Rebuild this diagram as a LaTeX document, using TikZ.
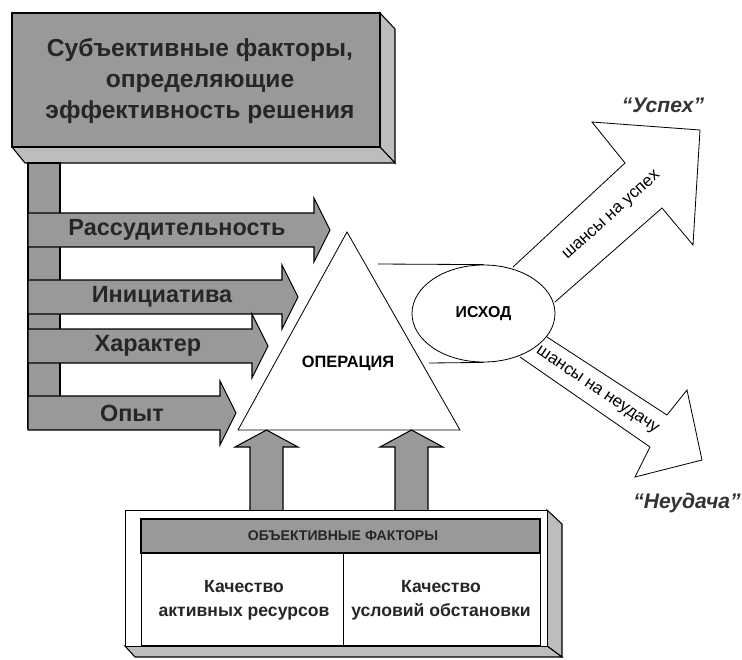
\documentclass[tikz,border=0pt]{standalone}
\usepackage{fontspec}
\setmainfont{Liberation Sans}
\usetikzlibrary{shapes.geometric}

\definecolor{hatch}{gray}{0.6}
\definecolor{hatchside}{gray}{0.74}

\tikzset{
  hatched/.style={fill=hatch,draw=black,line width=0.9pt},
  sideface/.style={fill=hatchside,draw=black,line width=0.9pt},
  outline/.style={draw=black,line width=0.7pt},
  factor/.style={font=\bfseries\fontsize{20}{24}\selectfont,text=black!85},
  chance/.style={font=\fontsize{14.5}{17}\selectfont},
  outcome/.style={font=\bfseries\itshape\fontsize{18}{21}\selectfont,text=black!80},
  cell/.style={align=center,font=\bfseries\fontsize{15}{20.5}\selectfont,text=black!85}
}

\begin{document}
\begin{tikzpicture}[x=0.03cm,y=-0.03cm]
\useasboundingbox (0,0) rectangle (742,659);

% subjective factors
\draw[sideface] (380,13)--(395,29)--(395,163)--(380,147)--cycle;
\draw[sideface] (12,147)--(380,147)--(395,163)--(25,163)--cycle;
\draw[hatched] (12,13) rectangle (380,147);
\node[align=center,font=\bfseries\fontsize{21}{26.5}\selectfont,text=black!85] (subj) at (200,81)
  {Субъективные факторы,\\определяющие\\эффективность решения};
\draw[hatched] (28,163) rectangle (60,428);
\foreach \yc/\xt/\xl/\txt [count=\i] in {230/330/177/Рассудительность,297/298/162/Инициатива,
    346/268/148/Характер,413/236/132/Опыт}{
  \draw[hatched] (28,\yc-17)--(\xt-16,\yc-17)--(\xt-16,\yc-32)--(\xt,\yc)
    --(\xt-16,\yc+32)--(\xt-16,\yc+17)--(28,\yc+17)--cycle;
  \node[factor] (subj-\i) at (\xl,\yc) {\txt};
}

% operation
\coordinate (apex) at (347,232);
\draw[outline,fill=white] (apex)--(460,430)--(238,430)--cycle;
\node[font=\bfseries\fontsize{14}{16}\selectfont] (oper) at (348,363) {ОПЕРАЦИЯ};

% outcome arrows
\draw[outline,fill=white] (513,267)--(625,163)--(592,122)--(700,130)--(693,245)--(662,208)--(555,302);
\draw[outline,fill=white] (547,337)--(667,415)--(687,390)--(702,460)--(635,477)--(650,447)--(520,357);
\node[chance,rotate=42] (win) at (612,216) {шансы на успех};
\node[chance,rotate=-34] (loss) at (597,391) {шансы на неудачу};
\node[outcome] (success) at (663,105) {“Успех”};
\node[outcome] (failure) at (687,503) {“Неудача”};

\node[ellipse,outline,fill=white,minimum width=4.29cm,minimum height=2.91cm,inner sep=0pt,
  font=\bfseries\fontsize{13.5}{15}\selectfont] (ishod) at (483.5,313.5) {ИСХОД};
\coordinate (op-up) at (378,264);
\coordinate (op-lo) at (429,363);
\draw[outline] (op-up) -- (ishod.north);
\draw[outline] (op-lo) -- (ishod.south);

% objective factors
\foreach \xc in {266.5,411.5}
  \draw[hatched] (\xc-16.5,511)--(\xc-16.5,447)--(\xc-31.5,447)--(\xc,430)
    --(\xc+31.5,447)--(\xc+16.5,447)--(\xc+16.5,511);
\draw[sideface] (547,510)--(562,524)--(562,657)--(547,646)--cycle;
\draw[sideface] (125,646)--(547,646)--(562,657)--(135,657)--cycle;
\draw[outline,fill=white] (125,510) rectangle (547,646);
\draw[hatched] (141,519) rectangle (540,553);
\node[font=\bfseries\fontsize{12}{14}\selectfont,text=black!85] (obj) at (343,536) {ОБЪЕКТИВНЫЕ ФАКТОРЫ};
\draw[outline] (141,553) rectangle (540,645);
\draw[outline] (343,553)--(343,645);
\node[cell] (res) at (244,600) {Качество\\активных ресурсов};
\node[cell] (cond) at (441,600) {Качество\\условий обстановки};
\end{tikzpicture}
\end{document}
